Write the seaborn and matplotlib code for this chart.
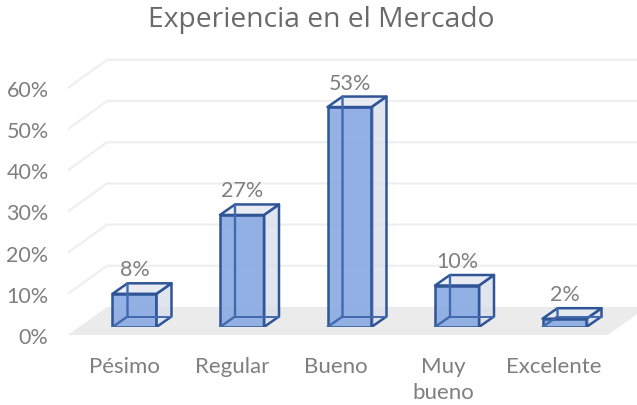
import pandas as pd
import matplotlib
matplotlib.use('Agg')
import matplotlib.pyplot as plt
from matplotlib.patches import Polygon
from matplotlib.transforms import ScaledTranslation
import seaborn as sns

categorias = ['Pésimo', 'Regular', 'Bueno', 'Muy\nbueno', 'Excelente']
valores = [8, 27, 53, 10, 2]
ticks_y = [0, 10, 20, 30, 40, 50, 60]
titulo = 'Experiencia en el Mercado'

sns.set_theme(style='white')
plt.rcParams['font.family'] = ['Lato', 'DejaVu Sans']

W, H = 637, 406
GRIS = '#7f7f7f'
AZUL = '#2f5597'
fig = plt.figure(figsize=(W / 100, H / 100), dpi=100)

# fondo: piso y lineas de la pared (misma escala que las etiquetas del eje y)
ax_fondo = fig.add_axes([68 / W, (H - 336) / H, (W - 68) / W, 336 / H])
ax_fondo.set_xlim(68, W)
ax_fondo.set_ylim(0, 336 / 4.12)
prof_x, prof_y = 39, 28 / 4.12
ax_fondo.add_patch(Polygon([(68, 0), (68 + prof_x, prof_y), (608 + prof_x, prof_y), (608, 0)],
                           facecolor='#ebebeb', edgecolor='none'))
for t in ticks_y[1:]:
    ax_fondo.plot([68, 68 + prof_x, W], [t, t + prof_y, t + prof_y], color='#efefef', lw=1.6,
                  solid_joinstyle='round')
ax_fondo.set_xticks([])
ax_fondo.set_yticks(ticks_y)
ax_fondo.set_yticklabels([f'{t}%' for t in ticks_y], color=GRIS, fontsize=15.5)
ax_fondo.tick_params(axis='y', length=0, pad=14)
sns.despine(ax=ax_fondo, left=True, bottom=True)

# barras
ax = fig.add_axes([0, (H - 328) / H, 1, 328 / H])
ax.patch.set_alpha(0)
df = pd.DataFrame({'categoria': categorias, 'valor': valores})
sns.barplot(data=df, x='categoria', y='valor', ax=ax, width=44 / 107.5, saturation=1,
            color='#8faee3', edgecolor=AZUL, linewidth=1.8, zorder=3)
ax.set_xlim(-134.5 / 107.5, (W - 134.5) / 107.5)
ax.set_ylim(0, 328 / 4.15)
ax.set_xlabel('')
ax.set_ylabel('')
ax.set_yticks([])
sns.despine(ax=ax, left=True, bottom=True)
ax.tick_params(axis='x', length=0, pad=21, labelsize=16, labelcolor=GRIS)
corrimiento = [-10, -10, -14, -14, -11]
for lab, c in zip(ax.get_xticklabels(), corrimiento):
    lab.set_transform(lab.get_transform() + ScaledTranslation(c / 100, 0, fig.dpi_scale_trans))
    lab.set_linespacing(1.35)

# caras de atras para dar el efecto 3D
dx, dy = 15 / 107.5, 10.5 / 4.15
for barra, v in zip(ax.patches, valores):
    x0, x1 = barra.get_x(), barra.get_x() + barra.get_width()
    barra.set_facecolor((0.53, 0.66, 0.89, 0.88))
    ax.add_patch(Polygon([(x1, 0), (x1 + dx, dy), (x1 + dx, v + dy), (x1, v)],
                         facecolor=(0.85, 0.87, 0.92, 0.6), edgecolor=AZUL, lw=1.8, zorder=4,
                         joinstyle='round'))
    ax.add_patch(Polygon([(x0, v), (x0 + dx, v + dy), (x1 + dx, v + dy), (x1, v)],
                         facecolor=(0.90, 0.92, 0.95, 0.7), edgecolor=AZUL, lw=1.8, zorder=4,
                         joinstyle='round'))
    ax.add_patch(Polygon([(x0 + dx, dy), (x1 + dx, dy), (x1 + dx, v + dy), (x0 + dx, v + dy)],
                         facecolor=(0.85, 0.87, 0.92, 0.45), edgecolor='none', zorder=2))
    ax.plot([x0, x0 + dx, x0 + dx], [0, dy, v + dy], color='#4169ad', lw=1.7, zorder=4)
    ax.plot([x0 + dx, x1 + dx], [dy, dy], color='#4169ad', lw=1.4, zorder=4)
    ax.annotate(f'{v}%', (x0 + (x1 - x0) / 2, v + dy), xytext=(0, 14 / 100 * 72), textcoords='offset points',
                ha='center', va='center', color=GRIS, fontsize=15.5, zorder=5)

fig.text(321 / W, (H - 20) / H, titulo, ha='center', va='center', color='#6a6a6a', fontsize=20.3,
         family=['Open Sans', 'DejaVu Sans'])

fig.savefig('out.png', dpi=100)
